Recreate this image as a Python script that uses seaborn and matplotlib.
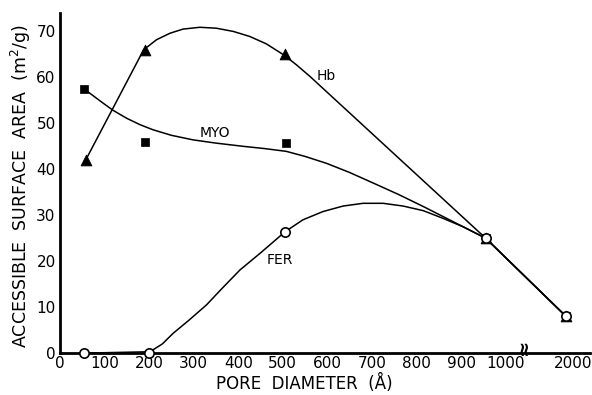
import numpy as np
import matplotlib
matplotlib.use("Agg")
import matplotlib.pyplot as plt
import seaborn as sns

# ===== DATA =====
# measured points: pore diameter (A) -> accessible surface area (m2/g)
HB_X = [58, 190, 505, 955, 1900]
HB_Y = [42, 66, 65, 25, 8]
MYO_X = [54, 192, 507, 955, 1900]
MYO_Y = [57.5, 46, 45.7, 25, 8]
FER_X = [55, 200, 505, 955, 1900]
FER_Y = [0, 0, 26.4, 25, 8]

# hand-drawn curves
HB_CURVE_X = [58, 188, 217, 247, 276, 314, 351, 389, 426, 463, 502, 531, 561, 955, 1900]
HB_CURVE_Y = [42, 66, 68.2, 69.6, 70.5, 70.9, 70.7, 70.0, 68.9, 67.3, 64.9, 62.7, 60.2, 25, 8]
MYO_CURVE_X = [54, 75, 97, 120, 150, 180, 209, 250, 299, 350, 411, 460, 508, 550, 598,
               650, 703, 760, 815, 880, 955, 1900]
MYO_CURVE_Y = [57.5, 56.0, 54.4, 52.8, 51.1, 49.7, 48.6, 47.4, 46.4, 45.7, 45.0, 44.5, 43.9,
               42.8, 41.3, 39.3, 37.0, 34.5, 31.9, 28.7, 25, 8]
FER_CURVE_X = [55, 202, 230, 254, 290, 329, 365, 404, 450, 505, 545, 590, 635, 680, 725,
               770, 815, 860, 904, 955, 1900]
FER_CURVE_Y = [0, 0.3, 2.0, 4.3, 7.2, 10.5, 14.2, 18.1, 21.8, 26.4, 29.0, 30.8, 32.0, 32.6,
               32.6, 32.0, 31.0, 29.3, 27.5, 25, 8]

X_TICKS = [0, 100, 200, 300, 400, 500, 600, 700, 800, 900, 1000, 2000]
Y_TICKS = [0, 10, 20, 30, 40, 50, 60, 70]

# ===== BROKEN AXIS SCALE =====
BREAK = 1000
SQUEEZE = 0.15  # 1000..2000 squeezed into 150 units


def fwd(x):
    x = np.asarray(x, dtype=float)
    return np.where(x <= BREAK, x, BREAK + (x - BREAK) * SQUEEZE)


def inv(p):
    p = np.asarray(p, dtype=float)
    return np.where(p <= BREAK, p, BREAK + (p - BREAK) / SQUEEZE)


sns.set_style("white")
plt.rcParams["font.family"] = ["DejaVu Sans"]
plt.rcParams["text.color"] = "black"
plt.rcParams["axes.labelcolor"] = "black"

fig = plt.figure(figsize=(5.92, 3.95), dpi=100)
ax = fig.add_axes([0.101, 0.106, 0.895, 0.861])
ax.set_xscale("function", functions=(fwd, inv))

curves = [(HB_CURVE_X, HB_CURVE_Y), (MYO_CURVE_X, MYO_CURVE_Y), (FER_CURVE_X, FER_CURVE_Y)]
for cx, cy in curves:
    sns.lineplot(x=cx, y=cy, sort=False, estimator=None, color="black", lw=1.1, ax=ax)

sns.scatterplot(x=HB_X, y=HB_Y, marker="^", s=60, color="black", edgecolor="black", ax=ax, zorder=5)
sns.scatterplot(x=MYO_X, y=MYO_Y, marker="s", s=40, color="black", edgecolor="black", ax=ax, zorder=5)
sns.scatterplot(x=FER_X, y=FER_Y, marker="o", s=45, color="white", edgecolor="black",
                linewidth=1.2, ax=ax, zorder=6, clip_on=False)

ax.text(597, 60.3, "Hb", fontsize=10, ha="center", va="center")
ax.text(348, 47.9, "MYO", fontsize=10, ha="center", va="center")
ax.text(493, 20.3, "FER", fontsize=10, ha="center", va="center")

# axis break mark
ax.text(1260, 1.4, "\u2248", rotation=90, fontsize=14, fontweight="bold",
        ha="center", va="center", zorder=7)

ax.set_xlim(0, inv(1188))
ax.set_ylim(0, 74)
ax.set_xticks(X_TICKS)
ax.set_xticklabels([str(t) for t in X_TICKS])
ax.set_yticks(Y_TICKS)
ax.tick_params(direction="in", length=8, width=1.3, labelsize=11, colors="black", pad=3)
ax.tick_params(axis="x", pad=2)

for side in ["top", "right"]:
    ax.spines[side].set_visible(False)
for side in ["left", "bottom"]:
    ax.spines[side].set_linewidth(2)
    ax.spines[side].set_color("black")

ax.set_xlabel("PORE  DIAMETER  (Å)", fontsize=12)
ax.xaxis.set_label_coords(0.462, -0.062)
ax.set_ylabel("ACCESSIBLE  SURFACE  AREA  (m$^2$/g)", fontsize=12.5)
ax.yaxis.set_label_coords(-0.05, 0.49)

fig.savefig("out.png", dpi=100)
